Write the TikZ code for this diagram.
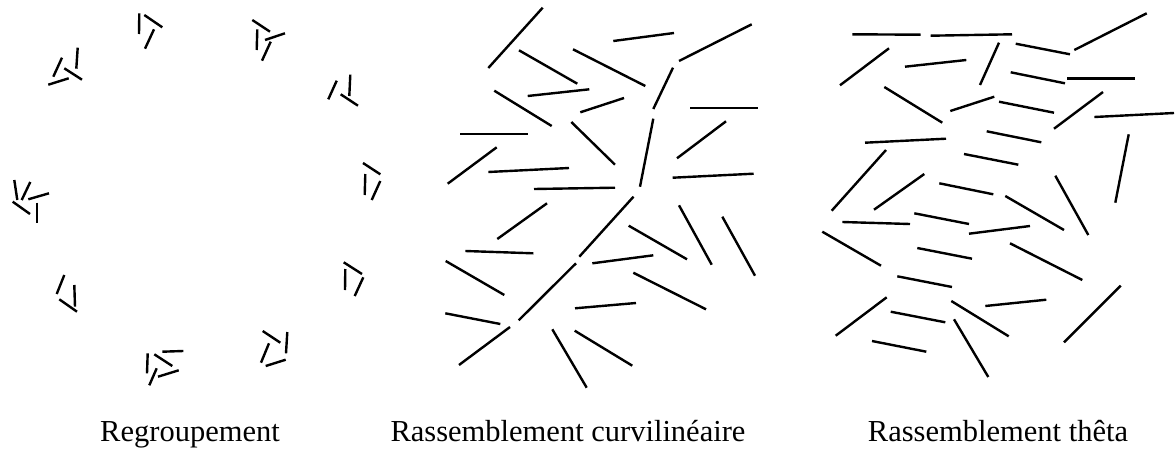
\documentclass[tikz,border=0pt]{standalone}
\usepackage{fontspec}
\setmainfont{Liberation Serif}
\begin{document}
\begin{tikzpicture}[x=1pt,y=-1pt,
  seg/.style={line width=2.4pt,black},
  lab/.style={font=\fontsize{30.5}{34}\selectfont,anchor=base}]
\useasboundingbox (0,0) rectangle (1175,458);
% ---------- Left panel: Regroupement ----------
\draw[seg] (139.3,13.3)--(139,34);
\draw[seg] (144.3,15)--(162.3,27.3);
\draw[seg] (154,29.3)--(145,48.7);
\draw[seg] (77.7,47.7)--(76.3,68.7);
\draw[seg] (62,57.7)--(53.3,76.7);
\draw[seg] (64.3,68.3)--(82,79.7);
\draw[seg] (48.3,84.7)--(68.7,78.3);
\draw[seg] (14.3,180)--(17.3,200);
\draw[seg] (30.3,182)--(21.7,200);
\draw[seg] (28.3,199.3)--(49,193.3);
\draw[seg] (12.7,201.7)--(30,214);
\draw[seg] (37,202.7)--(37,223.3);
\draw[seg] (64.3,275)--(56.7,294);
\draw[seg] (74.3,285)--(75,306.7);
\draw[seg] (59.3,299.3)--(77,311.7);
\draw[seg] (147.7,353.3)--(147,373.3);
\draw[seg] (162.3,351.7)--(183.3,351);
\draw[seg] (154.3,354.3)--(172.3,366);
\draw[seg] (178.7,370.3)--(158,376.7);
\draw[seg] (156.7,368.3)--(149.3,385.3);
\draw[seg] (252.3,20)--(270,31.7);
\draw[seg] (257.3,29.3)--(256.7,50);
\draw[seg] (265,40)--(285,33.3);
\draw[seg] (270.7,41.7)--(262,60.7);
\draw[seg] (336.7,80.7)--(328.3,99.3);
\draw[seg] (350.3,74.7)--(349.3,96);
\draw[seg] (340.7,94.3)--(358,105.7);
\draw[seg] (363,163)--(380.3,174.3);
\draw[seg] (365.3,174)--(364.7,195);
\draw[seg] (380.3,181)--(371.7,200);
\draw[seg] (343.7,262.3)--(362,274);
\draw[seg] (345.3,269)--(345,290);
\draw[seg] (363.3,277.3)--(354.7,296);
\draw[seg] (262.7,331)--(280.3,342.7);
\draw[seg] (287.3,332)--(286,353.3);
\draw[seg] (269,343.3)--(261,362.7);
\draw[seg] (265.7,366)--(285.7,359.7);
% ---------- Middle panel: Rassemblement curvilineaire ----------
\draw[seg] (542.7,7.7)--(488.3,68);
\draw[seg] (613.3,41)--(674,33);
\draw[seg] (679,61)--(751.7,24.3);
\draw[seg] (519,50.3)--(577.3,83.7);
\draw[seg] (573,49.3)--(645.3,86);
\draw[seg] (673,67.7)--(653.3,109);
\draw[seg] (527.7,96)--(589.3,89.3);
\draw[seg] (494.3,90.7)--(551.7,126);
\draw[seg] (580.3,112.3)--(624,98);
\draw[seg] (460.3,133.7)--(528.3,133.7);
\draw[seg] (571.3,122)--(615,164.7);
\draw[seg] (690,107.7)--(757.7,107.7);
\draw[seg] (653.3,118.7)--(640,186.7);
\draw[seg] (726,121.3)--(677,158.3);
\draw[seg] (496.7,147.3)--(447.7,183.7);
\draw[seg] (488.3,172)--(569,168);
\draw[seg] (534,189)--(615,187.7);
\draw[seg] (672.7,177.7)--(753.7,173.7);
\draw[seg] (633.5,196.7)--(579.3,256.7);
\draw[seg] (547,203.3)--(497.3,239);
\draw[seg] (465.3,251)--(533.3,253.3);
\draw[seg] (628.7,225.7)--(687,259.3);
\draw[seg] (679,205.3)--(711.7,264.7);
\draw[seg] (722.3,216.7)--(755,275.7);
\draw[seg] (592.3,263.3)--(653.3,255.3);
\draw[seg] (445.7,261)--(504.3,295);
\draw[seg] (576,263.3)--(518.7,320.3);
\draw[seg] (633.3,272.7)--(706,309.3);
\draw[seg] (575,308.3)--(636,303);
\draw[seg] (445.3,313.3)--(500.3,324);
\draw[seg] (510,327)--(459,365);
\draw[seg] (552.3,329.3)--(586.7,387.7);
\draw[seg] (574.7,330.7)--(632.3,365.7);
% ---------- Right panel: Rassemblement theta ----------
\draw[seg] (852.3,34.3)--(920.7,34.7);
\draw[seg] (930.7,35.7)--(1012,34.3);
\draw[seg] (889,48.3)--(840,85.3);
\draw[seg] (905,66.7)--(966.3,60);
\draw[seg] (999,42.7)--(980,85);
\draw[seg] (884.3,87)--(942.3,122.7);
\draw[seg] (950.3,111)--(994.3,96.7);
\draw[seg] (999,101.7)--(1054,112.7);
\draw[seg] (865,142.7)--(946,138.7);
\draw[seg] (986.7,131.3)--(1041.3,142.3);
\draw[seg] (886,150)--(831.7,210.7);
\draw[seg] (924.3,174)--(874,209.7);
\draw[seg] (964,154)--(1018.3,164.7);
\draw[seg] (939.3,183.3)--(993.3,194.3);
\draw[seg] (1005.3,196)--(1064,230);
\draw[seg] (1074.3,50)--(1146.7,13.3);
\draw[seg] (1015.7,43.7)--(1070,54.3);
\draw[seg] (1010.7,72.3)--(1065,83.3);
\draw[seg] (1067,78.3)--(1134.7,78.3);
\draw[seg] (1103,92)--(1054,128.7);
\draw[seg] (1094.3,117)--(1174,113);
\draw[seg] (1128.7,134.3)--(1115.3,202.7);
\draw[seg] (1055.3,175.7)--(1088.3,235);
\draw[seg] (842.3,222)--(910,224);
\draw[seg] (914.3,213.3)--(969,224);
\draw[seg] (969,233.7)--(1030,226);
\draw[seg] (822.3,231.7)--(881,265.7);
\draw[seg] (917.3,248)--(972,258.7);
\draw[seg] (1010,243.3)--(1082.3,280);
\draw[seg] (897.3,276.3)--(952,287);
\draw[seg] (886.7,297.3)--(835.7,335.7);
\draw[seg] (890.7,311.7)--(945.3,322.3);
\draw[seg] (872,341)--(926.3,351.7);
\draw[seg] (954,319.3)--(988.3,377);
\draw[seg] (951.3,301)--(1008.7,336.3);
\draw[seg] (985.3,306)--(1046.3,299.7);
\draw[seg] (1120.7,285.7)--(1064,342.3);
% ---------- Labels ----------
\node[lab] (l1) at (190,441) {Regroupement};
\node[lab] (l2) at (568,441) {Rassemblement curvilinéaire};
\node[lab] (l3) at (998,441) {Rassemblement thêta};
\end{tikzpicture}
\end{document}
